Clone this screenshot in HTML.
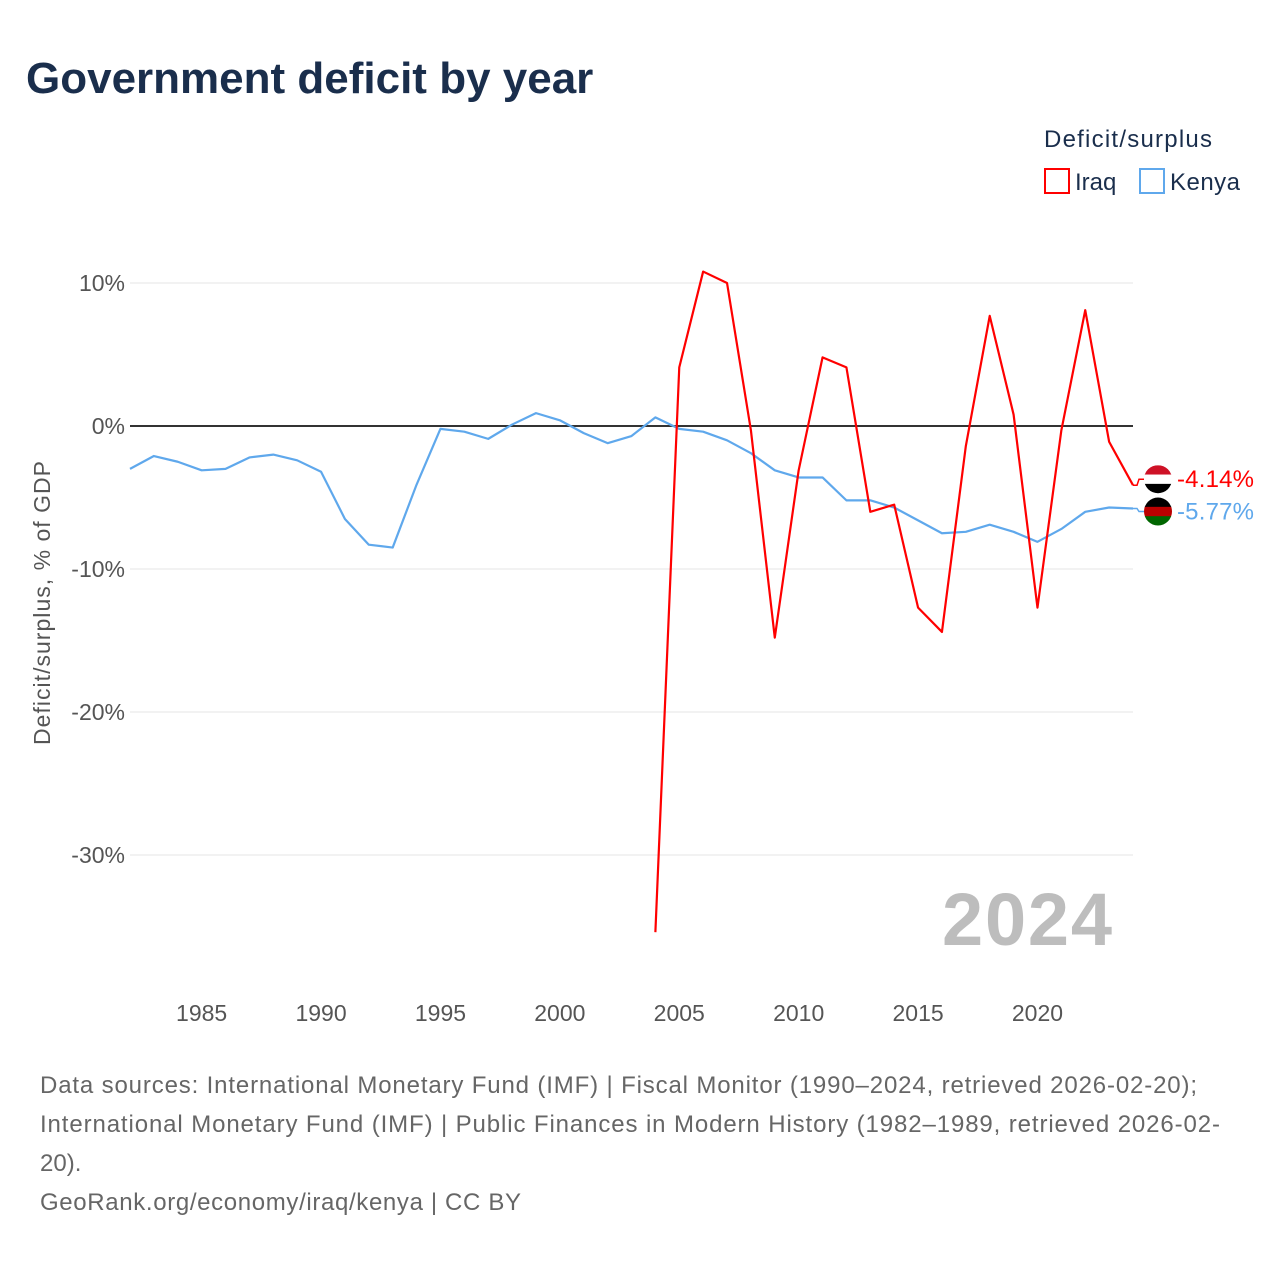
<!DOCTYPE html>
<html><head><meta charset="utf-8"><style>
body{margin:0;width:1280px;height:1280px;background:#fff;font-family:"Liberation Sans",sans-serif;overflow:hidden}
svg text{font-family:"Liberation Sans",sans-serif}
</style></head><body>
<svg id="c" width="1280" height="1280">
<text x="26" y="93" font-size="44" font-weight="bold" fill="#1a2e4c">Government deficit by year</text>
<text x="1044" y="147" font-size="24" fill="#1a2e4c" textLength="168">Deficit/surplus</text>
<g><rect x="1045" y="169" width="24" height="24" fill="none" stroke="#ff0000" stroke-width="2"/><text x="1075" y="190" font-size="24" fill="#1a2e4c">Iraq</text></g>
<g><rect x="1140" y="169" width="24" height="24" fill="none" stroke="#5fa8ec" stroke-width="2"/><text x="1170" y="190" font-size="24" fill="#1a2e4c" textLength="70">Kenya</text></g>
<text transform="translate(50,603) rotate(-90)" text-anchor="middle" font-size="23" fill="#555" textLength="284">Deficit/surplus, % of GDP</text>
<g id="grid"></g><g id="lines"></g>
<text x="1112" y="945" text-anchor="end" font-size="74" font-weight="bold" fill="#bdbdbd" textLength="170">2024</text>
<text x="40" y="1093" font-size="24" fill="#666" textLength="1157">Data sources: International Monetary Fund (IMF) | Fiscal Monitor (1990–2024, retrieved 2026-02-20);</text>
<text x="40" y="1132" font-size="24" fill="#666" textLength="1180">International Monetary Fund (IMF) | Public Finances in Modern History (1982–1989, retrieved 2026-02-</text>
<text x="40" y="1171" font-size="24" fill="#666">20).</text>
<text x="40" y="1210" font-size="24" fill="#666" textLength="481">GeoRank.org/economy/iraq/kenya | CC BY</text>
</svg>
<script>
const yTicks=[10,0,-10,-20,-30];
const yTickLabels=["10%","0%","-10%","-20%","-30%"];
const xTicks=[1985,1990,1995,2000,2005,2010,2015,2020];
const kenyaYears=[1982,1983,1984,1985,1986,1987,1988,1989,1990,1991,1992,1993,1994,1995,1996,1997,1998,1999,2000,2001,2002,2003,2004,2005,2006,2007,2008,2009,2010,2011,2012,2013,2014,2015,2016,2017,2018,2019,2020,2021,2022,2023,2024];
const kenyaValues=[-3.0,-2.1,-2.5,-3.1,-3.0,-2.2,-2.0,-2.4,-3.2,-6.5,-8.3,-8.5,-4.1,-0.2,-0.4,-0.9,0.1,0.9,0.4,-0.5,-1.2,-0.7,0.6,-0.2,-0.4,-1.0,-1.9,-3.1,-3.6,-3.6,-5.2,-5.2,-5.7,-6.6,-7.5,-7.4,-6.9,-7.4,-8.1,-7.2,-6.0,-5.7,-5.77];
const iraqYears=[2004,2005,2006,2007,2008,2009,2010,2011,2012,2013,2014,2015,2016,2017,2018,2019,2020,2021,2022,2023,2024];
const iraqValues=[-35.4,4.1,10.8,10.0,-0.3,-14.8,-3.1,4.8,4.1,-6.0,-5.5,-12.7,-14.4,-1.4,7.7,0.8,-12.7,-0.3,8.1,-1.1,-4.14];
const NS="http://www.w3.org/2000/svg";
const X=y=>130+(y-1982)*(1133-130)/42;
const Y=v=>426-v*14.3;
function mk(t,a,p){const e=document.createElementNS(NS,t);for(const k in a)e.setAttribute(k,a[k]);p.appendChild(e);return e;}
const g=document.getElementById('grid'),L=document.getElementById('lines');
yTicks.forEach((v,i)=>{
 const l=mk('line',{x1:130,x2:1133,y1:Y(v),y2:Y(v),stroke:v===0?'#333':'#e6e6e6','stroke-width':v===0?2:1},g);
 
 
 const t=mk('text',{x:125,y:Y(v)+8,'text-anchor':'end','font-size':23,fill:'#555'},g);t.textContent=yTickLabels[i];
 
 
});
xTicks.forEach(v=>{
 const t=mk('text',{x:X(v),y:1021,'text-anchor':'middle','font-size':23,fill:'#555'},g);t.textContent=v;
 
 
});
function line(ys,vs,col,name){
 const p=mk('polyline',{points:ys.map((y,i)=>X(y)+','+Y(vs[i])).join(' '),fill:'none',stroke:col,'stroke-width':2.2,'stroke-linejoin':'round'},L);
 
 
}
line(kenyaYears,kenyaValues,'#5fa8ec','kenya-line');
line(iraqYears,iraqValues,'#ff0000','iraq-line');
function endLabel(v,off,col,name,flag){
 const y0=Y(v),y=y0+off,fx=1158;
 const ll=mk('polyline',{points:`${X(2024)},${y0} ${X(2024)+4},${y0} ${X(2024)+6},${y} ${fx-14},${y}`,stroke:col,'stroke-width':1.5,fill:'none'},L);
 
 
 const fg=mk('g',{},L);
 
 
 const cp='cp'+name;
 const d=mk('defs',{},fg);const c=mk('clipPath',{id:cp},d);mk('circle',{cx:fx,cy:y,r:14},c);
 const cg=mk('g',{'clip-path':`url(#${cp})`},fg);
 flag.forEach((f,i)=>mk('rect',{x:fx-14,y:y-14+i*28/flag.length,width:28,height:28/flag.length+0.5,fill:f},cg));
 const t=mk('text',{x:1177,y:y+8,'font-size':24,fill:col,textLength:77},L);t.textContent=v.toFixed(2)+'%';
 
 
}
endLabel(iraqValues[iraqValues.length-1],-6,'#ff0000','iraq',['#ce1126','#ffffff','#000000']);
endLabel(kenyaValues[kenyaValues.length-1],3,'#5fa8ec','kenya',['#000000','#bb0000','#006600']);
</script>
</body></html>
